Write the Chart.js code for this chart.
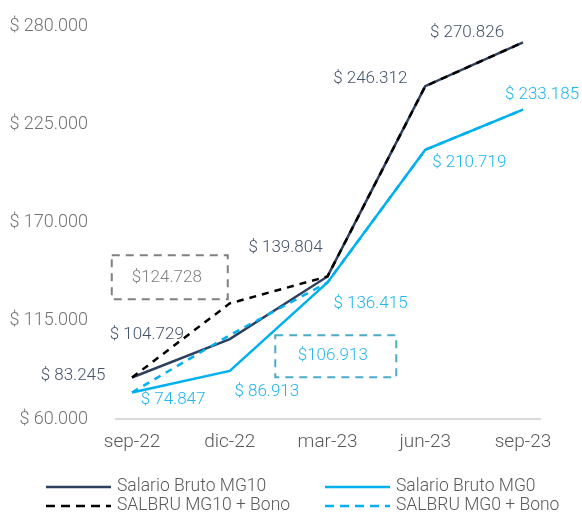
<!DOCTYPE html>
<html>
<head>
<meta charset="utf-8">
<script src="https://cdn.jsdelivr.net/npm/chart.js@4"></script>
<style>
  html, body { margin: 0; padding: 0; background: #fff; }
  #wrap { width: 582px; height: 514px; position: relative; }
</style>
</head>
<body>
<div id="wrap"><canvas id="chart01"></canvas></div>
<script>
// datos
var labels = ['sep-22', 'dic-22', 'mar-23', 'jun-23', 'sep-23'];
var mg10 = [83245, 104729, 139804, 246312, 270826];
var mg0 = [74847, 86913, 136415, 210719, 233185];
var mg10Bono = [83245, 124728, 139804, 246312, 270826];
var mg0Bono = [74847, 106913, 136415, 210719, 233185];
var yMin = 60000, yMax = 280000, yStep = 55000;

var FONT = 'Roboto, "Liberation Sans", sans-serif';

function fmt(v, sep) {
  return '$' + (sep === undefined ? ' ' : sep) + String(v).replace(/\B(?=(\d{3})+(?!\d))/g, '.');
}
function toXY(arr) {
  return arr.map(function(v, i) { return { x: i, y: v }; });
}

// etiquetas de valores y recuadros
var valueLabels = {
  id: 'valueLabels',
  afterDatasetsDraw: function(chart) {
    var ctx = chart.ctx;
    chart.data.datasets.forEach(function(ds, di) {
      var meta = chart.getDatasetMeta(di);
      ctx.save();
      ctx.font = '300 17px ' + FONT;
      ctx.textAlign = 'center';
      ctx.textBaseline = 'middle';
      if (ds.valueLabels) {
        ctx.fillStyle = ds.valueLabels.color;
        ds.valueLabels.offsets.forEach(function(o, i) {
          var p = meta.data[i];
          ctx.fillText(fmt(ds.data[i].y), p.x + o[0], p.y + o[1]);
        });
      }
      if (ds.callout) {
        var c = ds.callout;
        var p = meta.data[c.index];
        var cx = p.x + c.dx, cy = p.y + c.dy;
        ctx.strokeStyle = c.border;
        ctx.lineWidth = 2;
        ctx.setLineDash([8, 6]);
        ctx.strokeRect(cx - c.w / 2, cy - c.h / 2, c.w, c.h);
        ctx.setLineDash([]);
        ctx.fillStyle = c.color;
        ctx.fillText(fmt(ds.data[c.index].y, ''), cx - 3, cy);
      }
      ctx.restore();
    });
  }
};

// leyenda en dos columnas
var legend2col = {
  id: 'legend2col',
  afterDraw: function(chart) {
    var ctx = chart.ctx;
    var cols = [46, 325], rows = [487, 506];
    ctx.save();
    ctx.font = '300 17.5px ' + FONT;
    ctx.textBaseline = 'middle';
    chart.data.datasets.forEach(function(ds, k) {
      var x = cols[k % 2], y = rows[Math.floor(k / 2)];
      ctx.strokeStyle = ds.borderColor;
      ctx.lineWidth = 2.5;
      ctx.setLineDash(ds.borderDash ? [9, 6] : []);
      ctx.beginPath();
      ctx.moveTo(x, y);
      ctx.lineTo(x + 65, y);
      ctx.stroke();
      ctx.setLineDash([]);
      ctx.fillStyle = '#595959';
      ctx.fillText(ds.label, x + 71, y);
    });
    ctx.restore();
  }
};

var ctx = document.getElementById('chart01');
var myChart = new Chart(ctx, {
  type: 'line',
  data: {
    datasets: [
    {
      label: 'Salario Bruto MG10',
      data: toXY(mg10),
      borderColor: '#2f3f5e',
      borderWidth: 2.5,
      order: 1,
      valueLabels: {
        color: '#44546a',
        offsets: [[-59, -2], [-83, -4], [-42, -29], [-55, -7], [-56, -10]]
      }
    },{
      label: 'Salario Bruto MG0',
      data: toXY(mg0),
      borderColor: '#00b0f0',
      borderWidth: 2.5,
      order: 1,
      valueLabels: {
        color: '#1fb5f0',
        offsets: [[41, 7], [37, 21], [43, 21], [44, 13], [19, -15]]
      }
    },{
      label: 'SALBRU MG10 + Bono',
      data: toXY(mg10Bono),
      borderColor: '#000000',
      borderDash: [7, 6],
      borderWidth: 2.5,
      order: 0,
      callout: { index: 1, dx: -60, dy: -26, w: 116, h: 44, border: '#808080', color: '#808080' }
    },{
      label: 'SALBRU MG0 + Bono',
      data: toXY(mg0Bono),
      borderColor: '#00b0f0',
      borderDash: [7, 6],
      borderWidth: 2.5,
      order: 0,
      callout: { index: 1, dx: 106, dy: 21, w: 121, h: 42, border: '#4aacc6', color: '#29b6f0' }
    }]
  },
  options: {
    responsive: true,
    maintainAspectRatio: false,
    animation: false,
    elements: {
      point: { radius: 0, hoverRadius: 0 },
      line: { tension: 0, fill: false }
    },
    layout: {
      padding: { top: 26, right: 42, bottom: 50, left: 0 }
    },
    plugins: {
      legend: { display: false },
      tooltip: { enabled: false }
    },
    scales: {
      x: {
        type: 'linear',
        min: -0.164,
        max: 4.174,
        grid: { display: false, drawTicks: false },
        border: { display: true, color: '#d9d9d9', width: 2 },
        afterFit: function(scale) { scale.height = 45; },
        ticks: {
          stepSize: 1,
          includeBounds: false,
          autoSkip: false,
          maxRotation: 0,
          padding: 12,
          color: '#595959',
          font: { family: FONT, size: 19, weight: '300' },
          callback: function(v) { return Number.isInteger(v) ? labels[v] : ''; }
        }
      },
      y: {
        min: yMin,
        max: yMax,
        grid: { display: false, drawTicks: false },
        border: { display: false },
        afterFit: function(scale) {
          scale.width = 116;
          scale.paddingTop = 10;
          scale.paddingBottom = 10;
        },
        ticks: {
          stepSize: yStep,
          padding: 28,
          color: '#737373',
          font: { family: FONT, size: 18, weight: '300' },
          callback: function(v) { return fmt(v); }
        }
      }
    }
  },
  plugins: [valueLabels, legend2col]
});
</script>
</body>
</html>
